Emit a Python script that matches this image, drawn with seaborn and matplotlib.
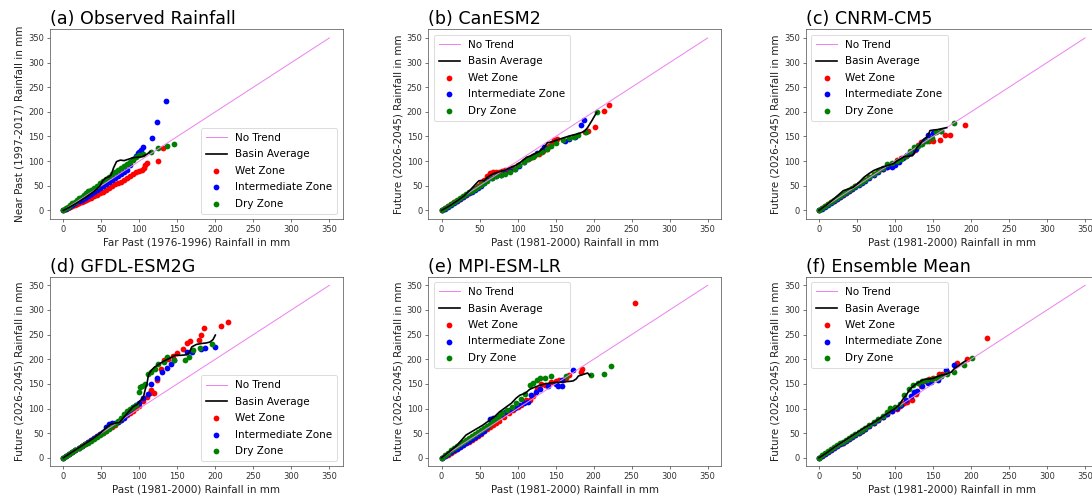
import matplotlib
matplotlib.use("Agg")
import matplotlib.pyplot as plt
import seaborn as sns

# ---------------- (a) Observed rainfall ----------------
a_wet_x = [0, 3, 6, 9, 12, 15, 18, 21, 24, 27, 30, 33, 36, 40, 44, 48, 52, 56, 60, 64, 68, 72, 76, 80, 84, 88, 92, 96, 100, 103, 106, 108, 110, 124, 131]
a_wet_y = [0, 2, 4, 6, 8, 10, 12, 14, 16, 19, 21, 23, 26, 29, 32, 35, 38, 42, 46, 50, 53, 56, 58, 61, 65, 70, 74, 77, 80, 82, 86, 92, 96, 101, 126]
a_mid_x = [0, 4, 8, 12, 16, 20, 24, 28, 32, 36, 40, 44, 48, 52, 56, 60, 64, 68, 72, 76, 80, 84, 88, 92, 95, 98, 100, 102, 105, 117, 123, 135]
a_mid_y = [0, 3, 7, 11, 15, 19, 22, 26, 30, 34, 38, 42, 46, 50, 54, 58, 62, 66, 70, 74, 78, 82, 92, 104, 110, 116, 118, 122, 128, 147, 180, 221]
a_dry_x = [0, 3, 6, 9, 12, 15, 18, 21, 24, 27, 30, 33, 36, 40, 44, 48, 52, 56, 60, 64, 68, 72, 76, 80, 84, 88, 92, 96, 100, 105, 115, 125, 136, 145]
a_dry_y = [0, 4, 7, 11, 14, 18, 21, 25, 28, 32, 35, 39, 42, 46, 50, 55, 59, 64, 68, 73, 78, 82, 87, 91, 95, 99, 103, 108, 112, 115, 119, 126, 131, 135]
a_basin_x = [0, 10, 20, 30, 40, 48, 52, 56, 60, 63, 66, 70, 75, 80, 86, 92, 98, 104, 110, 114]
a_basin_y = [0, 8, 17, 27, 38, 49, 60, 66, 68, 72, 86, 99, 102, 101, 104, 107, 108, 109, 114, 119]

# ---------------- (b) CanESM2 ----------------
b_wet_x = [0, 4, 8, 12, 16, 20, 24, 28, 32, 36, 40, 44, 48, 52, 56, 60, 64, 68, 72, 76, 80, 84, 88, 92, 100, 108, 116, 122, 128, 134, 138, 141, 145, 148, 152, 188, 192, 202, 214, 220]
b_wet_y = [0, 4, 8, 12, 16, 20, 24, 28, 32, 36, 40, 45, 50, 55, 62, 70, 75, 77, 78, 78, 80, 82, 84, 86, 92, 100, 107, 111, 114, 120, 125, 130, 136, 143, 145, 160, 162, 170, 202, 214]
b_mid_x = [0, 4, 8, 12, 16, 20, 24, 28, 32, 36, 40, 44, 48, 52, 56, 60, 66, 72, 78, 84, 90, 96, 102, 108, 114, 120, 126, 132, 135, 162, 168, 175, 184, 187]
b_mid_y = [0, 3, 7, 11, 15, 19, 23, 27, 31, 35, 38, 42, 46, 50, 56, 62, 66, 69, 72, 75, 79, 84, 91, 98, 104, 110, 116, 122, 129, 141, 145, 148, 174, 184]
b_dry_x = [0, 4, 8, 12, 16, 20, 24, 28, 32, 36, 40, 44, 48, 52, 56, 60, 66, 72, 78, 84, 90, 96, 102, 108, 114, 120, 126, 132, 138, 144, 150, 160, 168, 174, 180, 190, 204]
b_dry_y = [0, 5, 9, 13, 17, 21, 25, 29, 33, 37, 40, 44, 48, 52, 56, 60, 66, 70, 72, 74, 78, 84, 92, 98, 104, 109, 114, 119, 124, 130, 136, 142, 146, 148, 152, 159, 199]
b_basin_x = [0, 10, 20, 30, 38, 44, 49, 53, 56, 60, 64, 69, 75, 82, 91, 98, 104, 108, 112, 116, 121, 128, 135, 139, 145, 152, 160, 168, 178, 184, 188, 192, 198, 204]
b_basin_y = [0, 9, 19, 30, 42, 52, 60, 61, 60, 67, 71, 75, 78, 81, 87, 92, 98, 103, 108, 110, 114, 119, 128, 137, 139, 143, 147, 151, 155, 158, 161, 168, 183, 199]

# ---------------- (c) CNRM-CM5 ----------------
c_wet_x = [0, 4, 8, 12, 16, 20, 24, 28, 32, 36, 40, 44, 48, 52, 56, 60, 66, 72, 78, 84, 90, 96, 102, 108, 114, 120, 126, 130, 134, 140, 145, 150, 159, 166, 172, 192]
c_wet_y = [0, 4, 8, 12, 16, 20, 24, 28, 32, 36, 40, 44, 49, 54, 58, 62, 68, 74, 79, 84, 89, 95, 102, 106, 110, 116, 122, 132, 138, 140, 140, 140, 143, 152, 152, 173]
c_mid_x = [0, 4, 8, 12, 16, 20, 24, 28, 32, 36, 40, 44, 48, 52, 56, 60, 66, 72, 78, 84, 90, 96, 100, 105, 110, 116, 122, 128, 134, 140, 143, 150, 160]
c_mid_y = [0, 3, 7, 11, 15, 19, 23, 27, 31, 35, 39, 43, 47, 51, 55, 59, 65, 71, 77, 83, 88, 88, 92, 98, 106, 112, 118, 124, 134, 142, 152, 158, 162]
c_dry_x = [0, 4, 8, 12, 16, 20, 24, 28, 32, 36, 40, 44, 48, 52, 56, 60, 66, 72, 78, 84, 90, 96, 102, 108, 114, 120, 125, 130, 136, 142, 148, 154, 160, 177]
c_dry_y = [0, 5, 9, 13, 17, 21, 25, 29, 33, 37, 41, 45, 49, 53, 57, 61, 67, 73, 79, 85, 94, 96, 100, 104, 110, 120, 128, 130, 134, 140, 147, 159, 162, 177]
c_basin_x = [0, 10, 20, 32, 45, 52, 59, 66, 72, 80, 90, 98, 103, 108, 112, 118, 123, 126, 129, 133, 136, 140, 143, 146, 150, 156, 162, 168]
c_basin_y = [0, 11, 24, 40, 47, 56, 67, 75, 81, 86, 91, 95, 101, 105, 109, 110, 111, 118, 128, 134, 142, 147, 150, 162, 163, 164, 166, 168]

# ---------------- (d) GFDL-ESM2G ----------------
d_wet_x = [0, 4, 8, 12, 16, 20, 24, 28, 32, 36, 40, 44, 48, 52, 56, 60, 64, 68, 72, 76, 80, 84, 88, 92, 96, 100, 105, 110, 114, 116, 119, 123, 128, 132, 138, 144, 150, 157, 163, 167, 179, 181, 185, 207, 217]
d_wet_y = [0, 4, 8, 12, 16, 20, 24, 28, 32, 36, 40, 44, 48, 51, 55, 60, 63, 67, 72, 77, 82, 86, 90, 95, 101, 106, 115, 124, 131, 137, 131, 158, 180, 198, 200, 207, 212, 221, 233, 236, 240, 250, 263, 268, 276]
d_mid_x = [0, 4, 8, 12, 16, 20, 24, 28, 32, 36, 40, 44, 48, 52, 56, 60, 64, 68, 72, 76, 80, 84, 88, 92, 96, 100, 105, 111, 116, 123, 130, 136, 141, 145, 163, 169, 181, 187, 199]
d_mid_y = [0, 4, 8, 12, 16, 20, 24, 28, 32, 36, 40, 44, 48, 53, 62, 68, 70, 70, 72, 76, 81, 88, 96, 104, 108, 112, 121, 129, 150, 162, 175, 183, 190, 198, 215, 215, 220, 222, 225]
d_dry_x = [0, 4, 8, 12, 16, 20, 24, 28, 32, 36, 40, 44, 48, 52, 56, 60, 64, 68, 72, 76, 80, 84, 88, 92, 96, 100, 101, 104, 108, 112, 116, 121, 125, 132, 137, 146, 160, 165, 171, 180, 195]
d_dry_y = [0, 3, 7, 11, 15, 19, 23, 27, 31, 35, 39, 43, 47, 51, 55, 59, 64, 68, 74, 80, 88, 95, 100, 104, 108, 134, 143, 146, 150, 170, 175, 181, 190, 195, 205, 198, 198, 205, 219, 222, 231]
d_basin_x = [0, 10, 20, 30, 40, 48, 57, 62, 68, 74, 79, 84, 88, 92, 97, 101, 105, 108, 110, 112, 116, 120, 126, 132, 140, 147, 155, 162, 166, 169, 175, 182, 188, 193, 197, 200]
d_basin_y = [0, 10, 20, 30, 40, 49, 62, 68, 70, 72, 81, 90, 97, 104, 108, 116, 121, 140, 150, 168, 178, 184, 190, 196, 202, 208, 208, 209, 215, 225, 230, 232, 233, 235, 240, 249]

# ---------------- (e) MPI-ESM-LR ----------------
e_wet_x = [0, 4, 8, 12, 16, 20, 24, 28, 32, 36, 40, 44, 48, 52, 56, 60, 64, 68, 72, 76, 82, 88, 94, 100, 105, 111, 116, 120, 126, 131, 136, 144, 150, 155, 160, 164, 168, 184, 185, 254]
e_wet_y = [0, 3, 6, 10, 13, 17, 21, 25, 29, 33, 37, 41, 45, 49, 54, 58, 62, 66, 71, 75, 83, 90, 97, 104, 108, 117, 117, 126, 140, 149, 148, 153, 155, 158, 158, 161, 168, 174, 181, 315]
e_mid_x = [0, 4, 8, 12, 16, 20, 24, 28, 32, 36, 40, 44, 48, 52, 56, 60, 64, 68, 72, 78, 84, 90, 96, 102, 108, 113, 118, 124, 130, 140, 150, 153, 159, 159, 173]
e_mid_y = [0, 4, 7, 11, 15, 18, 22, 26, 30, 34, 38, 42, 46, 50, 54, 62, 78, 80, 80, 86, 92, 97, 102, 108, 112, 114, 128, 134, 140, 146, 150, 146, 146, 158, 179]
e_dry_x = [0, 4, 8, 12, 16, 20, 24, 28, 32, 36, 40, 44, 48, 52, 56, 60, 64, 68, 72, 76, 80, 86, 92, 98, 104, 110, 116, 120, 125, 129, 136, 144, 164, 197, 214, 223]
e_dry_y = [0, 6, 10, 15, 19, 24, 28, 32, 37, 41, 45, 49, 53, 57, 61, 65, 69, 74, 79, 84, 90, 97, 104, 112, 120, 130, 148, 152, 158, 162, 162, 165, 165, 168, 171, 186]
e_basin_x = [0, 10, 20, 32, 44, 54, 62, 70, 76, 84, 92, 98, 103, 110, 116, 122, 129, 136, 144, 151, 160, 168, 173, 177, 180, 184, 188, 192, 195]
e_basin_y = [0, 12, 25, 46, 57, 66, 75, 84, 93, 102, 111, 121, 127, 131, 139, 143, 147, 150, 152, 153, 154, 155, 156, 160, 166, 168, 170, 172, 167]

# ---------------- (f) Ensemble mean ----------------
f_wet_x = [0, 4, 8, 12, 16, 20, 24, 28, 32, 36, 40, 44, 48, 52, 56, 60, 66, 72, 78, 84, 90, 96, 102, 106, 109, 112, 116, 122, 128, 134, 140, 145, 150, 158, 162, 169, 182, 195, 221]
f_wet_y = [0, 3, 7, 11, 15, 19, 23, 27, 31, 35, 39, 43, 47, 51, 55, 59, 65, 71, 77, 83, 89, 94, 100, 106, 109, 111, 113, 118, 130, 145, 155, 160, 162, 171, 170, 175, 192, 200, 244]
f_mid_x = [0, 4, 8, 12, 16, 20, 24, 28, 32, 36, 40, 44, 48, 52, 56, 60, 66, 72, 78, 84, 90, 96, 102, 108, 115, 121, 125, 129, 136, 143, 147, 156, 160, 167, 177]
f_mid_y = [0, 3, 7, 11, 15, 19, 23, 27, 31, 35, 39, 43, 47, 51, 55, 59, 65, 71, 77, 83, 89, 95, 101, 108, 118, 125, 134, 136, 145, 152, 154, 158, 165, 178, 188]
f_dry_x = [0, 4, 8, 12, 16, 20, 24, 28, 32, 36, 40, 44, 48, 52, 56, 60, 66, 72, 78, 84, 90, 94, 100, 106, 112, 118, 124, 130, 136, 142, 148, 155, 160, 168, 178, 191, 201]
f_dry_y = [0, 5, 9, 13, 17, 21, 25, 29, 33, 37, 41, 45, 49, 53, 57, 61, 67, 73, 79, 85, 93, 101, 103, 110, 128, 140, 147, 151, 155, 158, 160, 162, 165, 170, 175, 188, 202]
f_basin_x = [0, 10, 20, 30, 40, 50, 60, 70, 80, 90, 100, 105, 110, 115, 120, 126, 132, 138, 145, 150, 156, 162, 168, 174, 178, 184, 189, 193]
f_basin_y = [0, 10, 21, 31, 41, 51, 61, 70, 80, 90, 100, 106, 118, 128, 140, 148, 154, 159, 160, 161, 165, 168, 170, 174, 181, 187, 193, 197]

# Panel titles, axis labels and legend placement
titles = ["(a) Observed Rainfall", "(b) CanESM2", "(c) CNRM-CM5",
          "(d) GFDL-ESM2G", "(e) MPI-ESM-LR", "(f) Ensemble Mean"]
x_labels = ["Far Past (1976-1996) Rainfall in mm"] + ["Past (1981-2000) Rainfall in mm"] * 5
y_labels = ["Near Past (1997-2017) Rainfall in mm"] + ["Future (2026-2045) Rainfall in mm"] * 5
legend_locs = ["lower right", "upper left", "upper left", "lower right", "upper left", "upper left"]
trend_x = [0, 350]
trend_y = [0, 350]
tick_values = [0, 50, 100, 150, 200, 250, 300, 350]

zone_names = ["Wet Zone", "Intermediate Zone", "Dry Zone"]
zone_colors = ["red", "blue", "green"]

panels = [
    ([(a_wet_x, a_wet_y), (a_mid_x, a_mid_y), (a_dry_x, a_dry_y)], (a_basin_x, a_basin_y)),
    ([(b_wet_x, b_wet_y), (b_mid_x, b_mid_y), (b_dry_x, b_dry_y)], (b_basin_x, b_basin_y)),
    ([(c_wet_x, c_wet_y), (c_mid_x, c_mid_y), (c_dry_x, c_dry_y)], (c_basin_x, c_basin_y)),
    ([(d_wet_x, d_wet_y), (d_mid_x, d_mid_y), (d_dry_x, d_dry_y)], (d_basin_x, d_basin_y)),
    ([(e_wet_x, e_wet_y), (e_mid_x, e_mid_y), (e_dry_x, e_dry_y)], (e_basin_x, e_basin_y)),
    ([(f_wet_x, f_wet_y), (f_mid_x, f_mid_y), (f_dry_x, f_dry_y)], (f_basin_x, f_basin_y)),
]

W, H, DPI = 1092, 497, 60
fig = plt.figure(figsize=(W / DPI, H / DPI), dpi=DPI)

col_left = [50, 428.3, 805.7]
row_top = [29.3, 276.7]
ax_w, ax_h = 292.7, 189.7

for i, (zones, basin) in enumerate(panels):
    r, c = divmod(i, 3)
    ax = fig.add_axes([col_left[c] / W, 1 - (row_top[r] + ax_h) / H, ax_w / W, ax_h / H])

    sns.lineplot(x=trend_x, y=trend_y, color="violet", linewidth=1.2,
                 label="No Trend", ax=ax)
    sns.lineplot(x=basin[0], y=basin[1], color="black", linewidth=2,
                 sort=False, estimator=None, label="Basin Average", ax=ax)
    for (zx, zy), name, col in zip(zones, zone_names, zone_colors):
        sns.scatterplot(x=zx, y=zy, color=col, s=48, linewidth=0,
                        label=name, ax=ax)

    ax.set_xlim(-17.5, 367.5)
    ax.set_ylim(-17.5, 367.5)
    ax.set_xticks(tick_values)
    ax.set_yticks(tick_values)
    ax.tick_params(labelsize=10, colors="#333333")
    for sp in ax.spines.values():
        sp.set_color("#444444")
    ax.set_title(titles[i], loc="left", fontsize=21)
    ax.set_xlabel(x_labels[i], fontsize=12.5, color="#222222")
    ax.set_ylabel(y_labels[i], fontsize=12.5, color="#222222")
    ax.legend(loc=legend_locs[i], fontsize=12.5, labelspacing=0.62, borderpad=0.5)

fig.savefig("out.png", dpi=DPI)
